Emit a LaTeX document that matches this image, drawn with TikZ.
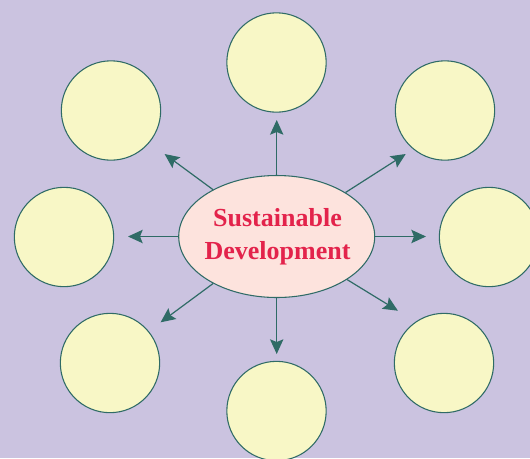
\documentclass[tikz,border=0pt]{standalone}
\usepackage{fontspec}
\setmainfont{Liberation Serif}
\usetikzlibrary{arrows.meta,shapes.geometric}
\definecolor{bgc}{HTML}{CBC3E0}
\definecolor{teal}{HTML}{2F6B66}
\definecolor{circfill}{HTML}{F8F7C6}
\definecolor{ellfill}{HTML}{FDE3DD}
\definecolor{txtred}{HTML}{E3234B}
\tikzset{
  bubble/.style={circle, draw=teal, line width=0.8pt, fill=circfill, minimum size=74.5pt, inner sep=0pt},
  hub/.style={ellipse, draw=teal, line width=0.8pt, fill=ellfill, minimum width=147pt, minimum height=91.5pt, inner sep=0pt},
  hubtext/.style={align=center, text=txtred, inner sep=0pt, font=\fontsize{19.5}{24.5}\selectfont\bfseries},
  arr/.style={draw=teal, line width=0.9pt, -{Stealth[length=11pt, width=10pt, inset=2pt]}}
}
\begin{document}
\begin{tikzpicture}[x=0.75pt,y=-0.75pt]
\fill[bgc] (0,0) rectangle (530,458);
\useasboundingbox (0,0) rectangle (530,458);
\node[hub] (c) at (276.7,236.5) {};
\node[hubtext] (lbl) at (277.5,237) {Sustainable\\Development};
\node[bubble] (n) at (276.5,62.5) {};
\node[bubble] (nw) at (111,110.5) {};
\node[bubble] (ne) at (445,110.5) {};
\node[bubble] (w) at (64,237) {};
\node[bubble] (e) at (489,237) {};
\node[bubble] (sw) at (110,363) {};
\node[bubble] (se) at (444,363) {};
\node[bubble] (s) at (276.5,411) {};
\coordinate (an) at (276.7,120);
\coordinate (anw) at (164.6,154);
\coordinate (ane) at (405.7,154);
\coordinate (aw) at (128,236.5);
\coordinate (ae) at (426,236.5);
\coordinate (asw) at (160.6,322.3);
\coordinate (ase) at (397.9,310.7);
\coordinate (as) at (276.7,354);
\foreach \t in {an,anw,ane,aw,ae,asw,ase,as}{
  \draw[arr] (c) -- (\t);
}
\end{tikzpicture}
\end{document}
